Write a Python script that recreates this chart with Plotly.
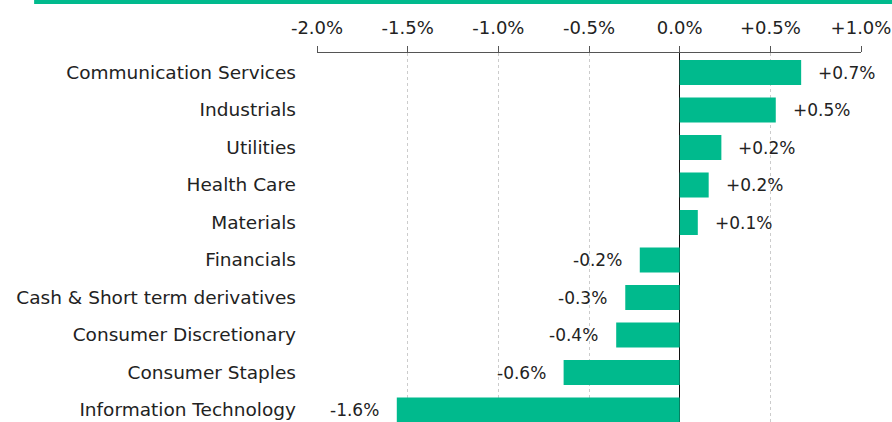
"""Sector contribution bar chart."""
import plotly.graph_objects as go

# Data
sectors = [
    'Communication Services', 'Industrials', 'Utilities', 'Health Care', 'Materials',
    'Financials', 'Cash & Short term derivatives', 'Consumer Discretionary',
    'Consumer Staples', 'Information Technology',
]
values = [0.67, 0.53, 0.23, 0.16, 0.10, -0.22, -0.30, -0.35, -0.64, -1.56]
value_labels = ['+0.7%', '+0.5%', '+0.2%', '+0.2%', '+0.1%',
                '-0.2%', '-0.3%', '-0.4%', '-0.6%', '-1.6%']
tick_vals = [-2.0, -1.5, -1.0, -0.5, 0.0, 0.5, 1.0]
tick_text = ['-2.0%', '-1.5%', '-1.0%', '-0.5%', '0.0%', '+0.5%', '+1.0%']

GREEN = '#00BA8D'
TEXT = '#222222'
FONT = 'DejaVu Sans'

fig = go.Figure()

fig.add_trace(go.Bar(
    x=values,
    y=sectors,
    orientation='h',
    marker=dict(color=GREEN, line=dict(width=0)),
    width=0.667,
    showlegend=False,
    hoverinfo='skip',
))

# value labels just beyond the bar ends
for s, v, lab in zip(sectors, values, value_labels):
    fig.add_annotation(
        x=v, y=s, text=lab, showarrow=False,
        xanchor='left' if v >= 0 else 'right',
        xshift=15 if v >= 0 else -16,
        font=dict(family=FONT, size=17, color=TEXT),
    )

# green band across the top
fig.add_shape(
    type='rect', xref='paper', yref='paper',
    x0=-0.52, x1=1.06, y0=1.133, y1=1.15,
    fillcolor=GREEN, line=dict(width=0), layer='above',
)

fig.update_xaxes(
    side='top',
    range=[-2.0, 1.0],
    tickvals=tick_vals,
    ticktext=tick_text,
    ticks='outside',
    ticklen=6,
    tickcolor='#555555',
    showline=True,
    linecolor='#555555',
    linewidth=1,
    showgrid=True,
    gridcolor='#cccccc',
    griddash='dot',
    gridwidth=1,
    zeroline=True,
    zerolinecolor='#111111',
    zerolinewidth=1,
    tickfont=dict(family=FONT, size=18, color=TEXT),
    ticklabelstandoff=5,
)

fig.update_yaxes(
    type='category',
    range=[9.32, -0.52],
    showgrid=False,
    showline=False,
    ticks='',
    tickfont=dict(family=FONT, size=18.5, color=TEXT),
    ticklabelstandoff=20,
)

fig.update_layout(
    width=892,
    height=422,
    margin=dict(l=317, r=31, t=53, b=0),
    plot_bgcolor='white',
    paper_bgcolor='white',
    font=dict(family=FONT, color=TEXT),
)

fig.write_html("out.html", config={'displayModeBar': False})

# drop the default body margin so the figure sits at the page corner
with open("out.html", encoding="utf-8") as f:
    html = f.read()
html = html.replace("<body>", '<body style="margin:0">', 1)
with open("out.html", "w", encoding="utf-8") as f:
    f.write(html)
